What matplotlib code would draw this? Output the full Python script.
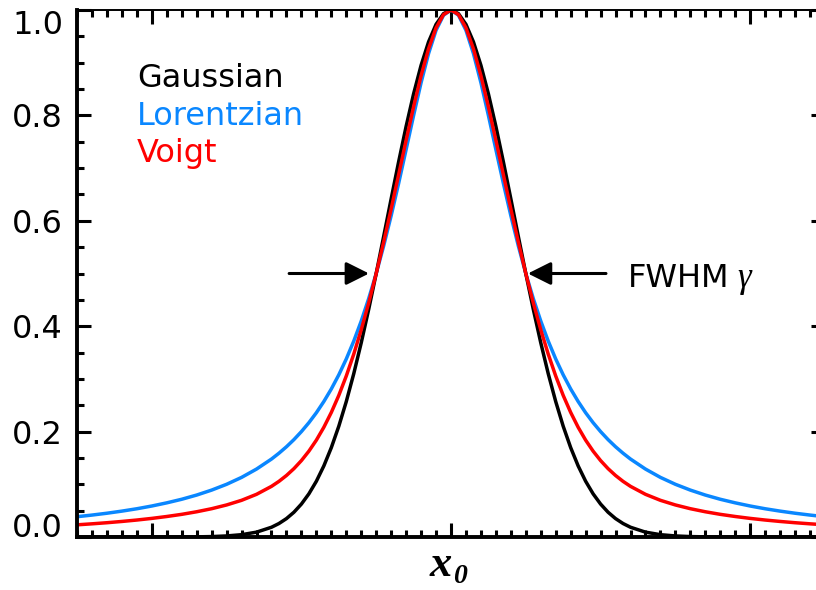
import matplotlib
matplotlib.use('Agg')
import matplotlib.pyplot as plt
import numpy as np


# profile values on the right half (x >= 0), all three share FWHM = 0.5
x_half = [0.0, 0.025, 0.05, 0.075, 0.1, 0.125, 0.15, 0.175, 0.2, 0.225, 0.25, 0.275, 0.3,
          0.325, 0.35, 0.375, 0.4, 0.425, 0.45, 0.475, 0.5, 0.525, 0.55, 0.575, 0.6,
          0.65, 0.7, 0.75, 0.8, 0.85, 0.9, 0.95, 1.0, 1.05, 1.1, 1.15, 1.2, 1.25]
gauss_half = [1.0000, 0.9931, 0.9727, 0.9395, 0.8950, 0.8409, 0.7792, 0.7120, 0.6417, 0.5704,
              0.5000, 0.4323, 0.3686, 0.3099, 0.2570, 0.2102, 0.1696, 0.1349, 0.1058, 0.0819,
              0.0625, 0.0470, 0.0349, 0.0256, 0.0185, 0.0092, 0.0044, 0.0020, 0.0008, 0.0003,
              0.0001, 0.0, 0.0, 0.0, 0.0, 0.0, 0.0, 0.0]
lorentz_half = [1.0000, 0.9901, 0.9615, 0.9174, 0.8621, 0.8000, 0.7353, 0.6711, 0.6098, 0.5525,
                0.5000, 0.4525, 0.4098, 0.3717, 0.3378, 0.3077, 0.2809, 0.2571, 0.2358, 0.2169,
                0.2000, 0.1848, 0.1712, 0.1590, 0.1479, 0.1289, 0.1131, 0.1000, 0.0890, 0.0796,
                0.0716, 0.0648, 0.0588, 0.0536, 0.0491, 0.0451, 0.0416, 0.0385]
voigt_half = [1.0000, 0.9913, 0.9660, 0.9263, 0.8753, 0.8164, 0.7528, 0.6875, 0.6225, 0.5596,
              0.5000, 0.4444, 0.3933, 0.3470, 0.3055, 0.2687, 0.2364, 0.2082, 0.1838, 0.1629,
              0.1450, 0.1297, 0.1167, 0.1056, 0.0961, 0.0810, 0.0696, 0.0608, 0.0537, 0.0479,
              0.0430, 0.0389, 0.0353, 0.0322, 0.0295, 0.0271, 0.0250, 0.0231]

names = ['Gaussian', 'Lorentzian', 'Voigt']
colors = ['black', '#0a87ff', '#ff0000']
yticks = [0.0, 0.2, 0.4, 0.6, 0.8, 1.0]


def mirror(xh, yh):
    x = np.concatenate([-np.array(xh[:0:-1]), xh])
    y = np.concatenate([np.array(yh[:0:-1]), yh])
    return x, y


fig = plt.figure(figsize=(8.16, 5.90), dpi=100)
ax = fig.add_axes([77 / 816, 53 / 590, 748 / 816, 527 / 590])

x, yl = mirror(x_half, lorentz_half)
ax.plot(x, yl, color=colors[1], lw=2.5, solid_capstyle='butt')
x, yg = mirror(x_half, gauss_half)
ax.plot(x, yg, color=colors[0], lw=2.5, solid_capstyle='butt')
x, yv = mirror(x_half, voigt_half)
ax.plot(x, yv, color=colors[2], lw=2.5, solid_capstyle='butt')

ax.set_xlim(-1.25, 1.25)
ax.set_ylim(0, 1.0)
ax.set_xticks([-1, 0, 1])
ax.set_xticks(np.arange(-1.25, 1.2501, 0.05), minor=True)
ax.set_yticks(yticks)
ax.set_yticklabels([f'{v:.1f}' for v in yticks])
ax.set_yticks(np.arange(0, 1.001, 0.05), minor=True)
ax.tick_params(which='both', direction='in', top=True, right=True,
               labelbottom=False, width=2.2, color='black')
ax.tick_params(which='major', length=10, labelsize=23, pad=10)
ax.tick_params(which='minor', length=5)
for s in ['left', 'bottom', 'right']:
    ax.spines[s].set_linewidth(2.8)
ax.spines['top'].set_linewidth(1.4)

labels = ax.yaxis.get_ticklabels()
for lab in labels:
    lab.set_verticalalignment('center_baseline')
labels[0].set_verticalalignment('baseline')
labels[-1].set_verticalalignment('top')

# legend as coloured words
for i, (name, c) in enumerate(zip(names, colors)):
    ax.text(0.08, 0.854 - i * 0.0715, name, color=c, fontsize=23,
            transform=ax.transAxes, va='baseline', ha='left')

# FWHM arrows
arrow = dict(arrowstyle='-|>,head_length=0.7,head_width=0.35', mutation_scale=20,
             lw=2.2, color='black', shrinkA=0, shrinkB=0)
ax.annotate('', xy=(-0.274, 0.5), xytext=(-0.541, 0.5), arrowprops=arrow)
ax.annotate('', xy=(0.257, 0.5), xytext=(0.518, 0.5), arrowprops=arrow)
ax.text(0.592, 0.474, 'FWHM', fontsize=23, va='baseline', ha='left')
ax.text(0.956, 0.474, 'γ', fontsize=25, va='baseline', ha='left',
        family='Liberation Serif', style='italic')

# x axis label x_0
fig.text(430 / 816, 1 - 576 / 590, 'x', fontsize=32, family='Liberation Serif',
         style='italic', weight='bold', va='baseline', ha='left')
fig.text(453 / 816, 1 - 583 / 590, '0', fontsize=20, family='Liberation Serif',
         style='italic', weight='bold', va='baseline', ha='left')

fig.savefig('out.png', dpi=100)
